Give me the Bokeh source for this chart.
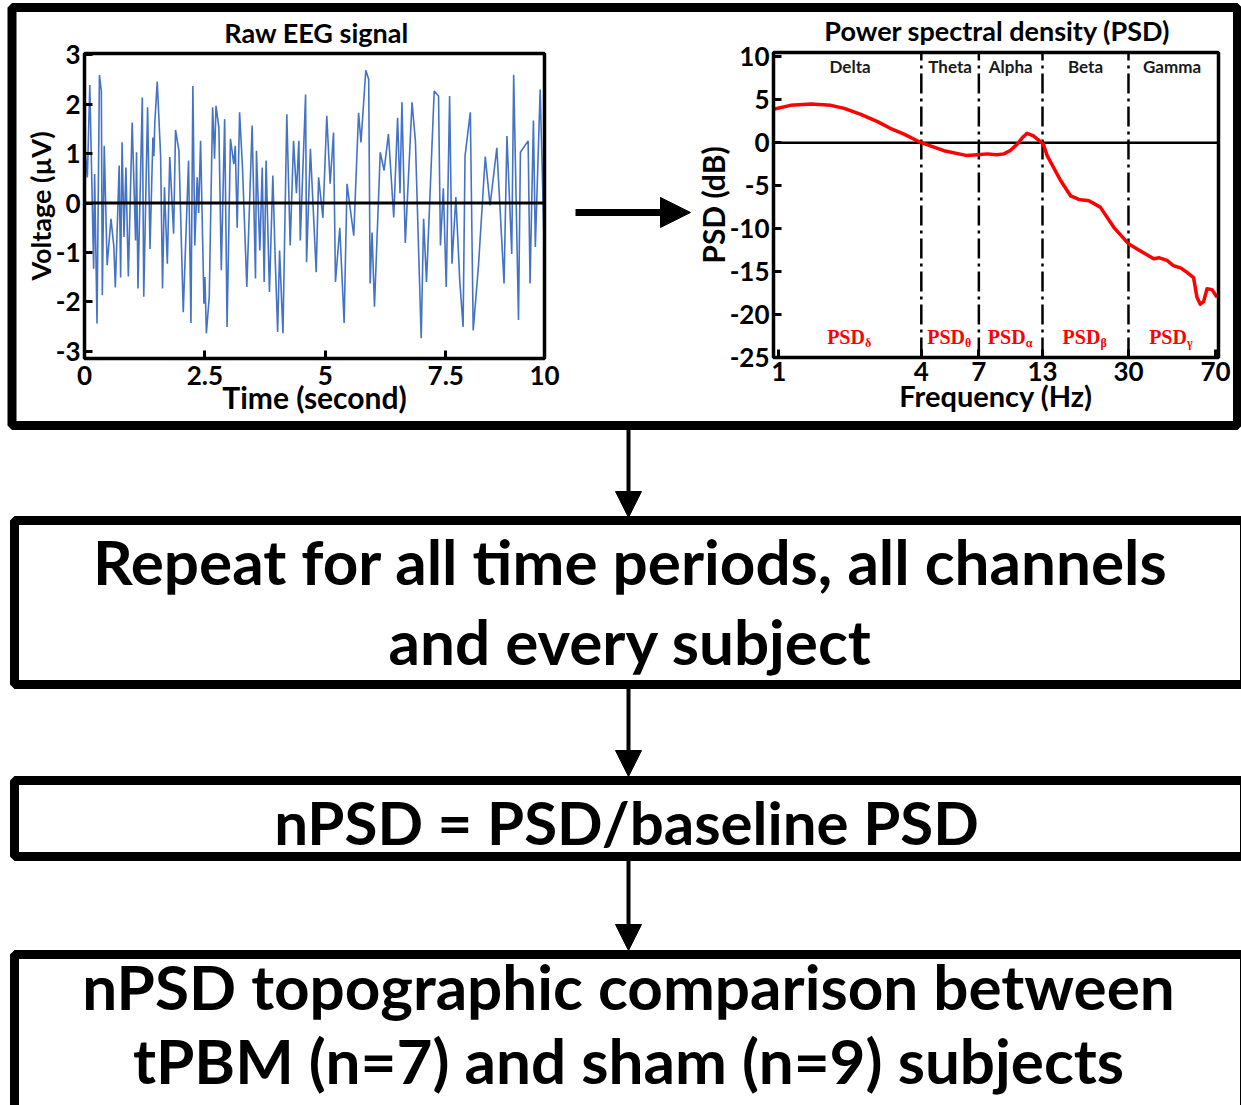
import math
from bokeh.plotting import figure
from bokeh.models import (Range1d, LinearAxis, LogScale, FixedTicker, Arrow, NormalHead)
from bokeh.core.properties import value
from bokeh.embed import file_html
from bokeh.resources import INLINE

W, H = 1241, 1105
FONT = "Lato"
SERIF = "Liberation Serif"

# ---------------- data ----------------
eeg_t = [0.00, 0.02, 0.06, 0.11, 0.19, 0.21, 0.26, 0.31, 0.35, 0.37, 0.41, 0.47, 0.55, 0.61,
         0.64, 0.72, 0.75, 0.78, 0.82, 0.86, 0.91, 0.99, 1.06, 1.08, 1.11, 1.20, 1.23, 1.31,
         1.36, 1.42, 1.44, 1.46, 1.51, 1.58, 1.62, 1.66, 1.72, 1.77, 1.85, 1.89, 1.96, 2.05,
         2.16, 2.21, 2.25, 2.29, 2.34, 2.37, 2.41, 2.48, 2.50, 2.53, 2.59, 2.66, 2.70, 2.73,
         2.79, 2.84, 2.91, 2.96, 3.03, 3.10, 3.13, 3.17, 3.22, 3.28, 3.37, 3.48, 3.55, 3.57,
         3.64, 3.69, 3.73, 3.77, 3.84, 3.91, 3.96, 4.01, 4.05, 4.12, 4.20, 4.27, 4.34, 4.40,
         4.45, 4.48, 4.59, 4.61, 4.69, 4.81, 4.86, 4.95, 5.03, 5.10, 5.17, 5.21, 5.30, 5.39,
         5.45, 5.59, 5.69, 5.74, 5.84, 5.90, 5.93, 5.97, 6.02, 6.14, 6.22, 6.31, 6.42, 6.50,
         6.55, 6.59, 6.66, 6.80, 6.87, 6.99, 7.04, 7.10, 7.26, 7.35, 7.39, 7.45, 7.51, 7.58,
         7.63, 7.71, 7.79, 7.86, 7.90, 8.01, 8.07, 8.18, 8.32, 8.42, 8.56, 8.71, 8.77, 8.87,
         8.91, 9.01, 9.05, 9.21, 9.25, 9.32, 9.36, 9.46, 9.55]
eeg_uv = [-1.73, 0.99, 0.52, 2.39, -1.33, 0.59, -2.44, 2.59, 2.27, -1.87, 1.16, -1.26, -0.32, -0.89,
          -1.71, 0.76, -1.51, 1.23, -0.69, 0.72, -1.49, 1.63, -0.76, 1.03, -1.73, 2.14, -1.90, 1.94,
          -0.93, 1.33, 0.95, 1.63, 2.46, 0.96, -1.73, 0.32, -1.23, 0.93, -0.62, 1.48, 1.06, -2.21,
          0.86, -2.43, 2.37, -0.86, 0.52, -0.20, 1.26, -2.04, -1.50, -2.64, -1.90, 1.94, 0.90, 1.97,
          1.53, -1.36, 1.70, -2.51, 1.30, 0.79, 1.16, -0.50, 1.84, 0.72, -1.70, 1.57, -1.53, 1.06,
          -0.96, 0.72, -1.60, 0.86, -1.80, 0.56, -1.16, -2.61, -0.96, -2.64, 1.80, -0.86, 1.26, 0.20,
          1.26, -0.76, 2.20, -1.20, 1.10, -1.40, 0.52, -0.30, 1.77, 0.39, 1.43, -1.60, -0.50, -2.43,
          0.39, -0.66, 1.83, 1.23, 2.69, 2.51, -1.63, -0.60, -2.10, 1.03, 0.66, 1.40, -0.29, 1.73,
          0.20, 2.04, -0.81, 2.04, 1.26, -2.74, -0.32, -1.60, 2.27, 2.17, -0.86, 0.30, -1.70, 2.17,
          -1.23, 0.12, -1.57, -2.51, 0.95, 1.84, -2.58, -1.26, 0.94, -0.05, 1.12, -1.63, 1.36, -1.03,
          2.60, -2.37, 1.03, 1.26, -1.63, 1.67, -0.89, 2.30, -1.13]

psd_hz = [0.95, 1.12, 1.37, 1.66, 1.89, 2.22, 2.61, 2.97, 3.38, 3.97, 4.98, 6.25, 6.9, 7.6,
          8.3, 8.93, 9.5, 10.17, 10.7, 11.2, 11.9, 13.1, 13.6, 15.5, 17.1, 18.5, 20.4, 22.8,
          26.0, 30.1, 33.7, 38.3, 40.5, 43.6, 46.4, 50.0, 53.0, 56.5, 58.4, 60.3, 62.3, 64.4,
          67.6, 71.0]
psd_db = [3.90, 4.35, 4.50, 4.35, 4.00, 3.30, 2.45, 1.65, 1.00, 0.03, -0.93, -1.50, -1.40, -1.30,
          -1.40, -1.30, -0.90, -0.15, 0.60, 1.10, 0.80, -0.15, -1.50, -4.40, -6.20, -6.60, -6.75, -7.50,
          -9.85, -11.80, -12.60, -13.50, -13.40, -13.70, -14.30, -14.60, -15.10, -15.70, -18.00, -18.80,
          -18.50, -17.00, -17.10, -18.00]

band_names = ["Delta", "Theta", "Alpha", "Beta", "Gamma"]
band_greek = ["δ", "θ", "α", "β", "γ"]
band_lo = [1, 4, 7, 13, 30]
band_hi = [4, 7, 13, 30, 70]
band_edges = [4, 7, 13, 30]

eeg_xticks = [0, 2.5, 5, 7.5, 9.55]
eeg_xtick_labels = ["0", "2.5", "5", "7.5", "10"]
eeg_yticks = [-3, -2, -1, 0, 1, 2, 3]
psd_xticks = [1, 4, 7, 13, 30, 70]
psd_yticks = [-25, -20, -15, -10, -5, 0, 5, 10]

EEG_T = (0, 9.55)
EEG_V = (-3.15, 3.03)
PSD_F = (0.95, 72)
PSD_V = (-25, 10.5)

flow_text = ["Repeat for all time periods, all channels", "and every subject",
             "nPSD = PSD/baseline PSD",
             "nPSD topographic comparison between", "tPBM (n=7) and sham (n=9) subjects"]

# ---------------- layout helpers ----------------
def xrange_for(lo, hi, px_lo, px_hi, log=False):
    f = math.log10 if log else (lambda z: z)
    g = (lambda z: 10 ** z) if log else (lambda z: z)
    a, b = f(lo), f(hi)
    s = (px_hi - px_lo) / (b - a)
    start = a - px_lo / s
    end = start + W / s
    return Range1d(start=g(start), end=g(end))


def yrange_for(lo, hi, px_bottom, px_top):
    s = (px_bottom - px_top) / (hi - lo)
    start = lo - (H - px_bottom) / s
    end = hi + px_top / s
    return Range1d(start=start, end=end)


def base(y, size):
    # shift so that the alphabetic baseline lands on y
    return y - 0.42 * size


p = figure(width=W, height=H, x_range=Range1d(0, W), y_range=Range1d(H, 0),
           x_axis_type=None, y_axis_type=None, toolbar_location=None,
           output_backend="svg", min_border=0, outline_line_color=None,
           background_fill_color="white", border_fill_color="white")

p.extra_x_ranges = {"eeg_x": xrange_for(EEG_T[0], EEG_T[1], 84, 544),
                    "psd_x": xrange_for(PSD_F[0], PSD_F[1], 773, 1218, log=True)}
p.extra_y_ranges = {"eeg_y": yrange_for(EEG_V[0], EEG_V[1], 358, 53),
                    "psd_y": yrange_for(PSD_V[0], PSD_V[1], 357, 52)}
p.extra_x_scales = {"psd_x": LogScale()}

E = dict(x_range_name="eeg_x", y_range_name="eeg_y")
P = dict(x_range_name="psd_x", y_range_name="psd_y")


def style_axis(ax, ticks, labels, label_size, title_size, standoff, label_standoff=4):
    ax.ticker = FixedTicker(ticks=ticks, minor_ticks=[])
    ax.major_label_overrides = dict(zip(ticks, labels))
    ax.axis_line_width = 3
    ax.axis_line_color = "black"
    ax.major_tick_line_width = 3
    ax.major_tick_line_color = "black"
    ax.major_tick_in = 8
    ax.major_tick_out = 0
    ax.minor_tick_line_color = None
    ax.major_label_text_font = FONT
    ax.major_label_text_font_size = label_size
    ax.major_label_text_font_style = "bold"
    ax.major_label_text_color = "black"
    ax.major_label_standoff = label_standoff
    ax.axis_label_text_font = FONT
    ax.axis_label_text_font_size = title_size
    ax.axis_label_text_font_style = "bold"
    ax.axis_label_text_color = "black"
    ax.axis_label_standoff = standoff


def fmt(t):
    return str(int(t)) if float(t).is_integer() else str(t)


# ---------------- EEG panel ----------------
p.line(eeg_t, eeg_uv, line_color="#4472C4", line_width=1.6, **E)
p.segment(x0=[EEG_T[0]], y0=[0], x1=[EEG_T[1]], y1=[0], line_color="black", line_width=3, **E)
p.quad(left=[EEG_T[0]], right=[EEG_T[1]], bottom=[EEG_V[0]], top=[EEG_V[1]],
       fill_color=None, line_color="black", line_width=3.5, **E)

eeg_y = LinearAxis(fixed_location=EEG_T[0], bounds=EEG_V, axis_label="Voltage (µV)", **E)
style_axis(eeg_y, eeg_yticks, [fmt(t) for t in eeg_yticks], "26px", "27px", -4)
p.add_layout(eeg_y, "left")

eeg_x = LinearAxis(fixed_location=EEG_V[0], bounds=EEG_T, axis_label="Time (second)", **E)
style_axis(eeg_x, eeg_xticks, eeg_xtick_labels, "26px", "30px", -9, label_standoff=7)
p.add_layout(eeg_x, "below")

# ---------------- PSD panel ----------------
p.segment(x0=band_edges, y0=[PSD_V[0]] * len(band_edges), x1=band_edges,
          y1=[PSD_V[1]] * len(band_edges), line_color="black", line_width=2.5,
          line_dash="20 5 3 5", **P)
p.segment(x0=[PSD_F[0]], y0=[0], x1=[PSD_F[1]], y1=[0], line_color="black", line_width=2.5, **P)
p.line(psd_hz, psd_db, line_color="#ff0000", line_width=3.5, line_join="round", **P)
p.quad(left=[PSD_F[0]], right=[PSD_F[1]], bottom=[PSD_V[0]], top=[PSD_V[1]],
       fill_color=None, line_color="black", line_width=3.5, **P)

band_mid = [math.sqrt(a * b) for a, b in zip(band_lo, band_hi)]
p.text(x=band_mid, y=[8.85] * 5, text=band_names, text_font=value(FONT), text_font_size="17px",
       text_font_style="bold", text_color="#1a1a1a", text_align="center", text_baseline="middle", **P)
p.text(x=band_mid, y=[-22.6] * 5, text=["PSD"] * 5, text_font=value(SERIF), text_font_size="20px",
       text_font_style="bold", text_color="#ff0000", text_align="center", text_baseline="middle",
       x_offset=-4, **P)
p.text(x=band_mid, y=[-22.6] * 5, text=band_greek, text_font=value(SERIF), text_font_size="12px",
       text_font_style="bold", text_color="#ff0000", text_align="left", text_baseline="middle",
       x_offset=15, y_offset=6, **P)

psd_y = LinearAxis(fixed_location=PSD_F[0], bounds=PSD_V, axis_label="PSD (dB)", **P)
style_axis(psd_y, psd_yticks, [fmt(t) for t in psd_yticks], "26px", "30px", -4)
p.add_layout(psd_y, "left")

psd_x = LinearAxis(fixed_location=PSD_V[0], bounds=PSD_F, axis_label="Frequency (Hz)", **P)
style_axis(psd_x, psd_xticks, [fmt(t) for t in psd_xticks], "26px", "29px", -6)
p.add_layout(psd_x, "below")

# ---------------- panel titles ----------------
TS = 27
p.text(x=[316, 997], y=[base(43, TS), base(41, TS)],
       text=["Raw EEG signal", "Power spectral density (PSD)"],
       text_font=value(FONT), text_font_size=f"{TS}px", text_font_style="bold", text_color="black",
       text_align="center", text_baseline="alphabetic")

# ---------------- flowchart boxes ----------------
box_l = [11.5, 14, 14, 14]
box_r = [1237, 1244, 1244, 1244]
box_t = [7, 520, 780, 954]
box_b = [425, 684, 856, 1120]
p.quad(left=box_l, right=box_r, top=box_t, bottom=box_b, fill_color=None,
       line_color="black", line_width=9)

flow_x = [630, 630, 626, 628, 628]
flow_base = [587, 667, 847, 1012, 1086]
flow_size = [62, 62, 60, 62, 62]
for tx, xx, yy, ss in zip(flow_text, flow_x, flow_base, flow_size):
    p.text(x=[xx], y=[base(yy, ss)], text=[tx], text_font=value(FONT),
           text_font_size=f"{ss}px", text_font_style="bold", text_color="black",
           text_align="center", text_baseline="alphabetic")

# arrows
for y0, y1 in [(429, 517), (688, 776), (860, 950)]:
    p.add_layout(Arrow(end=NormalHead(size=26, fill_color="black", line_color="black"),
                       x_start=628, y_start=y0, x_end=628, y_end=y1,
                       line_width=4, line_color="black"))
p.add_layout(Arrow(end=NormalHead(size=30, fill_color="black", line_color="black"),
                   x_start=575, y_start=212, x_end=690, y_end=212,
                   line_width=7, line_color="black"))

open("out.html", "w").write(file_html(p, INLINE))
